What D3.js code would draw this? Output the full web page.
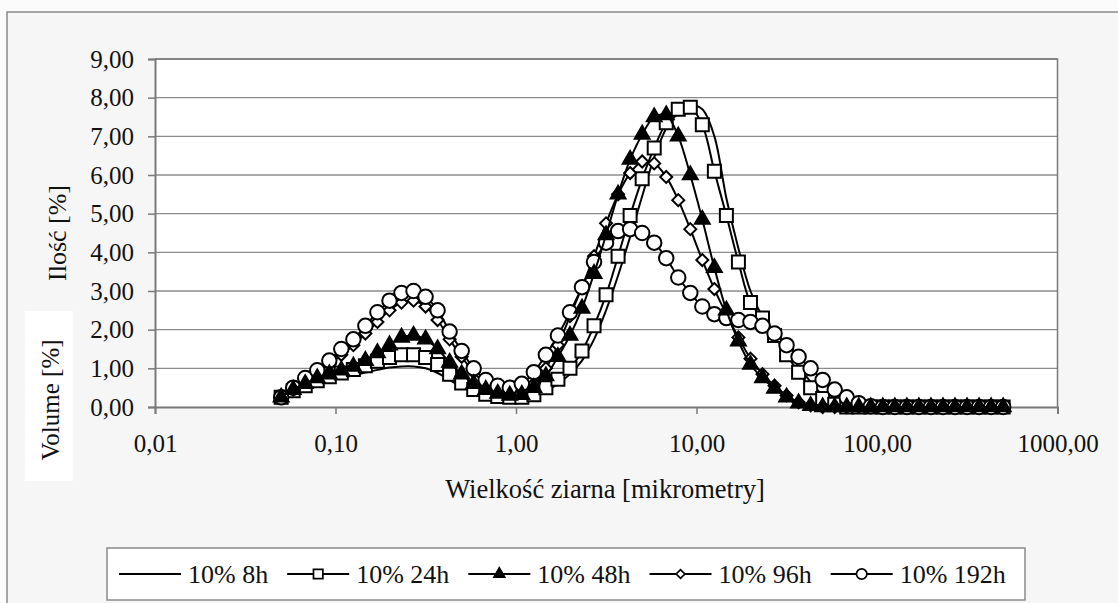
<!DOCTYPE html>
<html>
<head>
<meta charset="utf-8">
<script src="https://cdn.jsdelivr.net/npm/d3@7"></script>
<style>
  html, body { margin: 0; padding: 0; background: #fbfbfb; }
  svg { display: block; }
  text { font-family: "Liberation Serif", "Times New Roman", serif; fill: #111; }
</style>
</head>
<body>
<svg id="chart" width="1118" height="603"></svg>
<script>
// Grain size classes [µm], log-spaced from 0.05 to 500
const sizes = d3.range(61).map(i => +(0.05 * Math.pow(10, i / 15)).toPrecision(4));

// Volume fraction [%] per size class for each sample
const s8h = [
  0.25,0.38,0.50,0.60,0.68,0.75,0.82,0.89,0.96,1.02,
  1.05,1.05,1.00,0.88,0.70,0.52,0.38,0.30,0.25,0.23,
  0.23,0.27,0.40,0.60,0.85,1.20,1.75,2.50,3.40,4.40,
  5.45,6.45,7.20,7.60,7.80,7.70,7.00,5.40,4.10,3.00,
  2.35,1.95,1.50,1.05,0.65,0.30,0.10,0.02,0,0,
  0,0,0,0,0,0,0,0,0,0,0];
const s24h = [
  0.25,0.42,0.55,0.68,0.78,0.88,0.97,1.07,1.18,1.28,
  1.35,1.35,1.28,1.10,0.85,0.62,0.45,0.33,0.27,0.25,
  0.25,0.32,0.50,0.72,1.00,1.45,2.10,2.90,3.90,4.95,
  5.90,6.70,7.35,7.70,7.75,7.30,6.10,4.95,3.75,2.70,
  2.30,1.85,1.35,0.90,0.50,0.22,0.07,0,0,0,
  0,0,0,0,0,0,0,0,0,0,0];
const s48h = [
  0.25,0.45,0.60,0.75,0.85,0.95,1.05,1.20,1.40,1.60,
  1.80,1.85,1.75,1.50,1.15,0.85,0.60,0.45,0.35,0.30,
  0.32,0.50,0.80,1.30,1.85,2.55,3.45,4.45,5.50,6.40,
  7.05,7.50,7.55,7.00,6.00,4.85,3.60,2.50,1.70,1.10,
  0.75,0.48,0.25,0.10,0.03,0,0,0,0,0,
  0,0,0,0,0,0,0,0,0,0,0];
const s96h = [
  0.25,0.45,0.70,0.90,1.10,1.35,1.60,1.90,2.20,2.50,
  2.70,2.75,2.60,2.25,1.75,1.30,0.90,0.60,0.45,0.40,
  0.42,0.60,1.00,1.60,2.35,3.10,3.90,4.75,5.50,6.05,
  6.35,6.30,5.95,5.35,4.60,3.80,3.05,2.40,1.80,1.25,
  0.85,0.55,0.30,0.12,0.04,0,0,0,0,0,
  0,0,0,0,0,0,0,0,0,0,0];
const s192h = [
  0.25,0.50,0.75,0.95,1.20,1.50,1.75,2.10,2.45,2.75,
  2.95,3.00,2.85,2.50,1.95,1.45,1.00,0.70,0.55,0.50,
  0.60,0.90,1.35,1.85,2.45,3.10,3.75,4.25,4.55,4.60,
  4.50,4.25,3.85,3.35,2.95,2.60,2.40,2.30,2.25,2.20,
  2.10,1.90,1.60,1.30,1.00,0.70,0.45,0.25,0.10,0.02,
  0,0,0,0,0,0,0,0,0,0,0];

const seriesNames = ["10% 8h", "10% 24h", "10% 48h", "10% 96h", "10% 192h"];
const seriesValues = [s8h, s24h, s48h, s96h, s192h];
const seriesMarkers = ["none", "square", "triangle", "diamond", "circle"];
// painting order: filled triangles end up on top
const drawOrder = [0, 1, 3, 4, 2];

const xTicks = [0.01, 0.1, 1, 10, 100, 1000];
const yTicks = [0, 1, 2, 3, 4, 5, 6, 7, 8, 9];

const svg = d3.select("#chart");
const W = 1118, H = 603;
const plot = { left: 155, top: 59, right: 1057.5, bottom: 407 };

// chart area
svg.append("rect").attr("x", 7).attr("y", 12).attr("width", W).attr("height", H)
  .attr("fill", "#f6f6f6").attr("stroke", "#8a8a8a").attr("stroke-width", 1.5);

// plot area
svg.append("rect").attr("x", plot.left).attr("y", plot.top)
  .attr("width", plot.right - plot.left).attr("height", plot.bottom - plot.top)
  .attr("fill", "#ffffff");

const x = d3.scaleLog().domain([0.01, 1000]).range([plot.left, plot.right]);
const y = d3.scaleLinear().domain([0, 9]).range([plot.bottom, plot.top]);

const fmt = v => d3.format(".2f")(v).replace(".", ",");

// horizontal gridlines
svg.append("g").selectAll("line").data(yTicks.slice(1)).join("line")
  .attr("x1", plot.left).attr("x2", plot.right)
  .attr("y1", d => y(d)).attr("y2", d => y(d))
  .attr("stroke", "#8c8c8c").attr("stroke-width", 1.3);

// plot border (top / right)
svg.append("path")
  .attr("d", `M${plot.left},${plot.top}H${plot.right}V${plot.bottom}`)
  .attr("fill", "none").attr("stroke", "#7a7a7a").attr("stroke-width", 1.5);

// y axis
const yAxis = svg.append("g").attr("transform", `translate(${plot.left},0)`)
  .call(d3.axisLeft(y).tickValues(yTicks).tickFormat(fmt).tickSize(7).tickPadding(14));
yAxis.select(".domain").attr("stroke", "#7a7a7a").attr("stroke-width", 2);
yAxis.selectAll(".tick line").attr("stroke", "#7a7a7a").attr("stroke-width", 1.5);
yAxis.selectAll(".tick text").attr("font-size", 25).attr("font-family", "Liberation Serif").attr("fill", "#111");

// x axis
const xAxis = svg.append("g").attr("transform", `translate(0,${plot.bottom})`)
  .call(d3.axisBottom(x).tickValues(xTicks).tickFormat(fmt).tickSize(7).tickPadding(20));
xAxis.select(".domain").attr("stroke", "#7a7a7a").attr("stroke-width", 2);
xAxis.selectAll(".tick line").attr("stroke", "#7a7a7a").attr("stroke-width", 1.5);
xAxis.selectAll(".tick text").attr("font-size", 25).attr("font-family", "Liberation Serif").attr("fill", "#111");

// axis titles
svg.append("text").attr("x", 605).attr("y", 498).attr("text-anchor", "middle")
  .attr("font-size", 26.5).text("Wielkość ziarna [mikrometry]");
svg.append("text").attr("transform", "translate(66,233) rotate(-90)")
  .attr("text-anchor", "middle").attr("font-size", 26).text("Ilość [%]");

// English label on a white patch
svg.append("rect").attr("x", 25).attr("y", 311).attr("width", 48).attr("height", 170).attr("fill", "#ffffff");
svg.append("text").attr("transform", "translate(59,400) rotate(-90)")
  .attr("text-anchor", "middle").attr("font-size", 25).text("Volume [%]");

// marker shapes
function markerPath(type) {
  switch (type) {
    case "square": return d3.symbol(d3.symbolSquare, 169)();
    case "triangle": return d3.symbol(d3.symbolTriangle, 95)();
    case "diamond": return "M0,-6L6,0L0,6L-6,0Z";
    case "circle": return d3.symbol(d3.symbolCircle, 165)();
    default: return null;
  }
}
function markerFill(type) { return type === "triangle" ? "#000" : "#fff"; }

const line = d3.line().x(d => x(d[0])).y(d => y(d[1])).curve(d3.curveCatmullRom.alpha(0.5));

const gSeries = svg.append("g");
drawOrder.forEach(si => {
  const vals = seriesValues[si];
  const pts = sizes.map((s, i) => [s, vals[i]]);
  const g = gSeries.append("g");
  g.append("path").attr("d", line(pts)).attr("fill", "none")
    .attr("stroke", "#000").attr("stroke-width", 2);
  const mk = seriesMarkers[si];
  if (mk !== "none") {
    g.selectAll("path.m").data(pts).join("path").attr("class", "m")
      .attr("d", markerPath(mk))
      .attr("transform", d => `translate(${x(d[0])},${y(d[1])})`)
      .attr("fill", markerFill(mk)).attr("stroke", "#000").attr("stroke-width", 2);
  }
});

// legend
const leg = svg.append("g");
leg.append("rect").attr("x", 107).attr("y", 548).attr("width", 918).attr("height", 52)
  .attr("fill", "#ffffff").attr("stroke", "#8a8a8a").attr("stroke-width", 1.5);
let lx = 119;
const ly = 574;
seriesNames.forEach((name, si) => {
  const g = leg.append("g");
  g.append("line").attr("x1", lx).attr("x2", lx + 62).attr("y1", ly).attr("y2", ly)
    .attr("stroke", "#000").attr("stroke-width", 2);
  const mk = seriesMarkers[si];
  if (mk !== "none") {
    g.append("path").attr("d", markerPath(mk))
      .attr("transform", `translate(${lx + 31},${ly}) scale(0.72)`)
      .attr("fill", markerFill(mk)).attr("stroke", "#000").attr("stroke-width", 2.4);
  }
  const t = g.append("text").attr("x", lx + 69).attr("y", ly + 9).attr("font-size", 26).text(name);
  lx = lx + 69 + t.node().getComputedTextLength() + 19;
});
</script>
</body>
</html>
